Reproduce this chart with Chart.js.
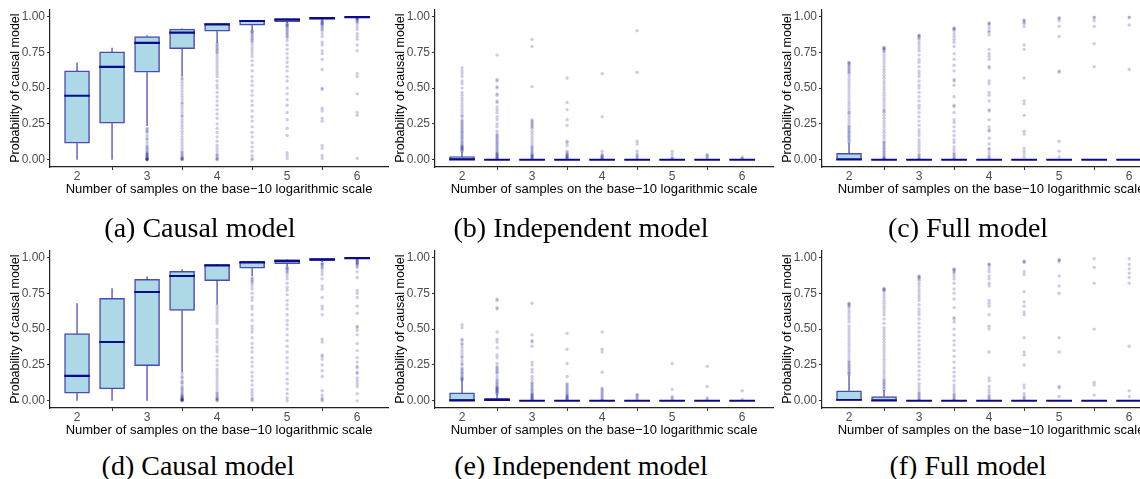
<!DOCTYPE html>
<html>
<head>
<meta charset="utf-8">
<script src="https://cdn.jsdelivr.net/npm/chart.js@4.4.0/dist/chart.umd.min.js"></script>
<style>
body { margin:0; width:1140px; height:479px; overflow:hidden; background:#fff; position:relative; }
.panel { position:absolute; width:392px; height:200px; }
.cap { position:absolute; width:300px; text-align:center; font-family:"Liberation Serif", "Times New Roman", serif; font-size:28px; line-height:30px; color:#000; white-space:nowrap; }
</style>
</head>
<body>
<div class="panel" style="left:0px;top:0px"><canvas id="pa"></canvas></div>
<div class="panel" style="left:385px;top:0px"><canvas id="pb"></canvas></div>
<div class="panel" style="left:772px;top:0px"><canvas id="pc"></canvas></div>
<div class="panel" style="left:0px;top:241px"><canvas id="pd"></canvas></div>
<div class="panel" style="left:385px;top:241px"><canvas id="pe"></canvas></div>
<div class="panel" style="left:772px;top:241px"><canvas id="pf"></canvas></div>
<div class="cap" style="left:50px;top:213px">(a) Causal model</div>
<div class="cap" style="left:431px;top:213px">(b) Independent model</div>
<div class="cap" style="left:818px;top:213px">(c) Full model</div>
<div class="cap" style="left:48px;top:451px">(d) Causal model</div>
<div class="cap" style="left:431px;top:451px">(e) Independent model</div>
<div class="cap" style="left:818px;top:451px">(f) Full model</div>
<script>
// positions of the boxes (log10 of sample size) and axis ticks
const xPos = [2, 2.5, 3, 3.5, 4, 4.5, 5, 5.5, 6];
const xTicks = [2, 3, 4, 5, 6];
const yTicks = [0, 0.25, 0.5, 0.75, 1];

// box stats per position: [lower whisker, q1, median, q3, upper whisker]
const aBox = [
  [0, 0.116, 0.447, 0.62, 0.678],
  [0, 0.255, 0.648, 0.752, 0.782],
  [0.236, 0.611, 0.815, 0.859, 0.868],
  [0.58, 0.775, 0.887, 0.912, 0.915],
  [0.815, 0.896, 0.944, 0.949, 0.952],
  [0.903, 0.938, 0.968, 0.972, 0.975],
  [0.954, 0.963, 0.977, 0.984, 0.986],
  [0.972, 0.979, 0.988, 0.991, 0.993],
  [0.985, 0.991, 0.995, 0.997, 0.999]
];
const aOut = [
  [],
  [],
  [0.22,0.21,0.2,0.19,0.17,0.15,0.14,0.12,0.1,0.09,0.08,0.07,0.06,0.05,0.045,0.04,0.035,0.03,0.025,0.02,0.015,0.01,0.008,0.005,0.003,0.002,0.001,0],
  [0.57,0.56,0.54,0.52,0.5,0.48,0.46,0.44,0.42,0.4,0.39,0.37,0.35,0.33,0.31,0.3,0.28,0.26,0.24,0.22,0.2,0.18,0.16,0.14,0.12,0.1,0.08,0.06,0.05,0.04,0.03,0.02,0.015,0.01,0.006,0.003,0],
  [0.81,0.8,0.79,0.78,0.77,0.76,0.75,0.74,0.72,0.7,0.68,0.66,0.64,0.62,0.6,0.58,0.55,0.52,0.5,0.47,0.44,0.41,0.38,0.35,0.32,0.29,0.25,0.22,0.19,0.16,0.13,0.1,0.08,0.06,0.04,0.03,0.02,0.01,0.005,0],
  [0.9,0.895,0.89,0.88,0.87,0.86,0.85,0.84,0.83,0.82,0.8,0.78,0.76,0.74,0.72,0.69,0.66,0.62,0.58,0.55,0.52,0.48,0.45,0.41,0.38,0.34,0.3,0.27,0.23,0.19,0.16,0.12,0.09,0.06,0.03,0.01,0],
  [0.95,0.945,0.94,0.935,0.93,0.92,0.91,0.9,0.89,0.88,0.87,0.86,0.85,0.83,0.8,0.77,0.74,0.71,0.68,0.65,0.62,0.58,0.55,0.5,0.46,0.42,0.38,0.33,0.28,0.22,0.17,0.05,0.03,0.01],
  [0.97,0.965,0.96,0.955,0.95,0.945,0.94,0.93,0.92,0.91,0.9,0.88,0.86,0.82,0.8,0.76,0.74,0.7,0.63,0.5,0.49,0.36,0.34,0.29,0.27,0.1,0.08,0.03,0.01],
  [0.99,0.985,0.98,0.975,0.97,0.96,0.95,0.93,0.91,0.88,0.86,0.84,0.8,0.76,0.6,0.58,0.46,0.33,0.31,0.01]
];

const bBox = [
  [0, 0, 0.003, 0.022, 0.055],
  [0, 0, 0, 0.002, 0.004],
  [0, 0, 0, 0.001, 0.002],
  [0, 0, 0, 0.001, 0.002],
  [0, 0, 0, 0.001, 0.002],
  [0, 0, 0, 0.001, 0.002],
  [0, 0, 0, 0.001, 0.002],
  [0, 0, 0, 0.001, 0.002],
  [0, 0, 0, 0.001, 0.002]
];
const bOut = [
  [0.64,0.62,0.6,0.58,0.55,0.53,0.5,0.47,0.45,0.43,0.41,0.39,0.37,0.35,0.33,0.31,0.3,0.28,0.27,0.26,0.25,0.24,0.23,0.22,0.21,0.2,0.19,0.18,0.17,0.16,0.15,0.14,0.13,0.12,0.11,0.1,0.095,0.09,0.085,0.08,0.075,0.07,0.065,0.06],
  [0.73,0.56,0.55,0.51,0.5,0.46,0.45,0.41,0.4,0.37,0.35,0.33,0.3,0.28,0.25,0.23,0.2,0.18,0.17,0.16,0.15,0.14,0.13,0.12,0.11,0.1,0.09,0.08,0.07,0.06,0.05,0.045,0.04,0.035,0.03,0.025,0.02,0.015,0.01,0.005],
  [0.84,0.79,0.51,0.28,0.27,0.26,0.25,0.24,0.23,0.22,0.2,0.18,0.16,0.14,0.12,0.1,0.09,0.08,0.07,0.06,0.05,0.04,0.035,0.03,0.025,0.02,0.015,0.01,0.005],
  [0.57,0.4,0.35,0.28,0.24,0.13,0.12,0.1,0.06,0.05,0.04,0.035,0.03,0.025,0.02,0.015,0.01,0.005],
  [0.6,0.3,0.06,0.04,0.03,0.025,0.02,0.015,0.01,0.005],
  [0.9,0.61,0.13,0.11,0.06,0.04,0.03,0.02,0.01],
  [0.06,0.04,0.02,0.01,0.005],
  [0.035,0.03,0.02,0.01],
  [0.02,0.01,0.005]
];

const cBox = [
  [0, 0, 0.002, 0.045, 0.115],
  [0, 0, 0, 0.003, 0.007],
  [0, 0, 0, 0.001, 0.002],
  [0, 0, 0, 0.001, 0.002],
  [0, 0, 0, 0.001, 0.002],
  [0, 0, 0, 0.001, 0.002],
  [0, 0, 0, 0.001, 0.002],
  [0, 0, 0, 0.001, 0.002],
  [0, 0, 0, 0.001, 0.002]
];
const cOut = [
  [0.68,0.675,0.67,0.66,0.65,0.64,0.63,0.62,0.61,0.6,0.58,0.56,0.54,0.52,0.5,0.48,0.46,0.44,0.42,0.4,0.38,0.36,0.34,0.33,0.32,0.3,0.28,0.26,0.24,0.23,0.22,0.21,0.2,0.19,0.18,0.17,0.16,0.15,0.14,0.13,0.12],
  [0.785,0.78,0.775,0.77,0.76,0.75,0.73,0.71,0.69,0.67,0.65,0.63,0.61,0.59,0.57,0.55,0.53,0.51,0.49,0.47,0.45,0.43,0.41,0.39,0.37,0.35,0.34,0.33,0.31,0.29,0.27,0.25,0.23,0.21,0.19,0.17,0.15,0.13,0.12,0.11,0.1,0.09,0.08,0.07,0.06,0.05,0.04,0.03,0.02,0.015,0.01,0.005],
  [0.87,0.865,0.86,0.85,0.84,0.82,0.8,0.78,0.76,0.73,0.7,0.68,0.65,0.62,0.6,0.58,0.55,0.52,0.5,0.47,0.44,0.41,0.38,0.36,0.33,0.3,0.27,0.24,0.21,0.19,0.17,0.14,0.12,0.1,0.08,0.06,0.04,0.03,0.02,0.01,0.005],
  [0.92,0.915,0.91,0.9,0.88,0.86,0.84,0.82,0.79,0.74,0.7,0.66,0.62,0.56,0.55,0.52,0.44,0.38,0.37,0.33,0.28,0.26,0.23,0.2,0.17,0.14,0.12,0.09,0.07,0.05,0.04,0.03,0.02,0.01,0.005],
  [0.955,0.95,0.94,0.92,0.9,0.89,0.87,0.77,0.74,0.72,0.7,0.65,0.64,0.55,0.53,0.47,0.45,0.41,0.35,0.34,0.28,0.23,0.21,0.2,0.15,0.11,0.08,0.07,0.05,0.03,0.02,0.01],
  [0.975,0.97,0.96,0.95,0.93,0.8,0.77,0.57,0.41,0.39,0.31,0.2,0.18,0.08,0.06,0.04,0.02],
  [0.99,0.985,0.97,0.93,0.86,0.62,0.61,0.13,0.06,0.02],
  [0.995,0.99,0.97,0.93,0.81,0.65],
  [0.995,0.99,0.94,0.63]
];

const dBox = [
  [0, 0.053, 0.174, 0.468, 0.681],
  [0, 0.083, 0.41, 0.715, 0.785],
  [0, 0.245, 0.759, 0.847, 0.866],
  [0.2, 0.63, 0.87, 0.903, 0.917],
  [0.67, 0.838, 0.944, 0.949, 0.954],
  [0.87, 0.924, 0.965, 0.972, 0.975],
  [0.937, 0.956, 0.975, 0.984, 0.987],
  [0.968, 0.977, 0.986, 0.991, 0.993],
  [0.985, 0.991, 0.995, 0.998, 0.999]
];
const dOut = [
  [],
  [],
  [],
  [0.19,0.17,0.16,0.14,0.13,0.12,0.1,0.09,0.08,0.07,0.06,0.05,0.04,0.035,0.03,0.025,0.02,0.015,0.012,0.01,0.008,0.006,0.004,0.002,0],
  [0.66,0.64,0.62,0.6,0.58,0.56,0.54,0.5,0.48,0.46,0.44,0.41,0.38,0.36,0.34,0.31,0.28,0.25,0.22,0.2,0.18,0.16,0.14,0.12,0.1,0.08,0.06,0.05,0.04,0.03,0.02,0.015,0.01,0.005,0],
  [0.86,0.85,0.84,0.83,0.82,0.8,0.78,0.75,0.72,0.7,0.66,0.64,0.6,0.56,0.52,0.5,0.48,0.44,0.4,0.37,0.34,0.3,0.27,0.24,0.2,0.17,0.14,0.11,0.08,0.06,0.04,0.02,0.01,0],
  [0.93,0.925,0.92,0.91,0.9,0.89,0.87,0.85,0.82,0.79,0.77,0.74,0.7,0.67,0.64,0.6,0.56,0.53,0.5,0.46,0.42,0.38,0.34,0.3,0.27,0.23,0.19,0.15,0.12,0.08,0.05,0.02,0],
  [0.96,0.955,0.95,0.94,0.93,0.92,0.9,0.88,0.85,0.8,0.78,0.72,0.66,0.64,0.6,0.43,0.41,0.32,0.31,0.29,0.25,0.21,0.17,0.07,0.04,0.02,0.01,0],
  [0.985,0.98,0.975,0.97,0.965,0.96,0.955,0.95,0.94,0.93,0.9,0.86,0.77,0.75,0.72,0.66,0.61,0.52,0.51,0.49,0.46,0.4,0.35,0.3,0.27,0.24,0.23,0.2,0.19,0.16,0.14,0.12,0.1,0.05,0]
];

const eBox = [
  [0, 0, 0.003, 0.055, 0.143],
  [0, 0, 0.006, 0.018, 0.045],
  [0, 0, 0, 0.001, 0.002],
  [0, 0, 0, 0.001, 0.002],
  [0, 0, 0, 0.001, 0.002],
  [0, 0, 0, 0.001, 0.002],
  [0, 0, 0, 0.001, 0.002],
  [0, 0, 0, 0.001, 0.002],
  [0, 0, 0, 0.001, 0.002]
];
const eOut = [
  [0.53,0.51,0.43,0.42,0.4,0.39,0.37,0.35,0.33,0.31,0.3,0.28,0.26,0.25,0.23,0.22,0.21,0.2,0.19,0.18,0.17,0.16,0.155,0.15,0.145],
  [0.71,0.7,0.65,0.64,0.48,0.43,0.41,0.37,0.32,0.3,0.26,0.24,0.23,0.22,0.21,0.2,0.19,0.17,0.15,0.14,0.13,0.12,0.11,0.1,0.095,0.09,0.085,0.08,0.075,0.07,0.065,0.06,0.055,0.05],
  [0.68,0.46,0.42,0.41,0.38,0.27,0.25,0.22,0.2,0.17,0.15,0.13,0.12,0.11,0.1,0.09,0.08,0.07,0.06,0.05,0.045,0.04,0.035,0.03,0.025,0.02,0.015,0.01,0.005],
  [0.47,0.36,0.26,0.17,0.12,0.11,0.1,0.09,0.08,0.07,0.06,0.05,0.04,0.035,0.03,0.025,0.02,0.015,0.01,0.005],
  [0.48,0.36,0.34,0.2,0.09,0.08,0.07,0.06,0.05,0.04,0.03,0.02,0.01,0.005],
  [0.045,0.04,0.03,0.02,0.01],
  [0.26,0.08,0.03,0.02,0.01],
  [0.24,0.1,0.02,0.01],
  [0.07,0.01]
];

const fBox = [
  [0, 0, 0.005, 0.07, 0.178],
  [0, 0, 0.002, 0.03, 0.075],
  [0, 0, 0, 0.001, 0.002],
  [0, 0, 0, 0.001, 0.002],
  [0, 0, 0, 0.001, 0.002],
  [0, 0, 0, 0.001, 0.002],
  [0, 0, 0, 0.001, 0.002],
  [0, 0, 0, 0.001, 0.002],
  [0, 0, 0, 0.001, 0.002]
];
const fOut = [
  [0.68,0.675,0.67,0.66,0.65,0.63,0.61,0.59,0.57,0.55,0.52,0.5,0.48,0.46,0.44,0.42,0.4,0.38,0.36,0.34,0.32,0.3,0.28,0.27,0.26,0.25,0.24,0.23,0.22,0.21,0.2,0.19,0.185],
  [0.785,0.78,0.775,0.77,0.76,0.74,0.72,0.7,0.68,0.66,0.64,0.62,0.6,0.57,0.54,0.51,0.49,0.47,0.45,0.43,0.41,0.39,0.37,0.35,0.33,0.31,0.29,0.27,0.25,0.23,0.21,0.19,0.17,0.15,0.14,0.13,0.12,0.11,0.1,0.09,0.08],
  [0.87,0.865,0.86,0.85,0.84,0.82,0.8,0.78,0.76,0.74,0.72,0.7,0.67,0.64,0.62,0.6,0.57,0.54,0.51,0.48,0.45,0.42,0.39,0.36,0.33,0.3,0.27,0.24,0.21,0.18,0.15,0.12,0.1,0.08,0.06,0.05,0.04,0.03,0.02,0.01,0.005],
  [0.92,0.915,0.91,0.9,0.89,0.87,0.85,0.82,0.78,0.75,0.71,0.65,0.58,0.57,0.55,0.5,0.46,0.42,0.39,0.35,0.31,0.27,0.23,0.2,0.17,0.14,0.11,0.09,0.07,0.05,0.04,0.03,0.02,0.01,0.005],
  [0.955,0.95,0.94,0.92,0.9,0.87,0.85,0.82,0.8,0.7,0.68,0.66,0.6,0.52,0.5,0.34,0.16,0.14,0.1,0.08,0.06,0.04,0.03,0.02,0.01],
  [0.975,0.97,0.965,0.9,0.88,0.76,0.69,0.66,0.62,0.6,0.44,0.34,0.32,0.25,0.11,0.09,0.05,0.03,0.02,0.01],
  [0.985,0.98,0.97,0.87,0.8,0.75,0.44,0.34,0.1,0.09,0.03],
  [0.99,0.93,0.82,0.5,0.13,0.11,0.04],
  [0.99,0.95,0.92,0.89,0.86,0.82,0.38,0.07,0.03]
];

const xTitle = 'Number of samples on the base\u221210 logarithmic scale';
const yTitle = 'Probability of causal model';

// colours
const boxFill = '#ADD8E6';
const boxLine = 'rgba(0,0,139,0.7)';
const medLine = '#0a0a8c';
const outCol = 'rgba(0,0,139,0.2)';

// half height of the median bar, in data units (about 1.5px)
const medHalf = 0.005;

function makePanel(id, box, out) {
  const boxData = xPos.map((x, i) => ({x: x, y: [box[i][1], box[i][3]]}));
  const medData = xPos.map((x, i) => ({x: x, y: [box[i][2] - medHalf, box[i][2] + medHalf]}));
  const whisk = [];
  xPos.forEach((x, i) => {
    whisk.push({x: x, y: box[i][0]}, {x: x, y: box[i][1]}, {x: x, y: null});
    whisk.push({x: x, y: box[i][3]}, {x: x, y: box[i][4]}, {x: x, y: null});
  });
  const outData = [];
  xPos.forEach((x, i) => out[i].forEach(v => outData.push({x: x, y: v})));

  const tickFont = {family: '"Liberation Sans", Arial, sans-serif', size: 12};
  const yTitleFont = {family: '"Liberation Sans", Arial, sans-serif', size: 12.5};
  const xTitleFont = {family: '"Liberation Sans", Arial, sans-serif', size: 13};

  return new Chart(document.getElementById(id), {
    type: 'scatter',
    data: {
      datasets: [
        {
          type: 'scatter', data: outData, order: 4,
          pointRadius: 1.7, pointBackgroundColor: outCol, pointBorderWidth: 0,
          pointBorderColor: 'rgba(0,0,0,0)'
        },
        {
          type: 'line', data: whisk, order: 3, spanGaps: false,
          borderColor: boxLine, borderWidth: 1.3, pointRadius: 0, fill: false, tension: 0
        },
        {
          type: 'bar', data: boxData, order: 2, barThickness: 25, grouped: false,
          backgroundColor: boxFill, borderColor: boxLine, borderWidth: 1.5,
          borderSkipped: false
        },
        {
          type: 'bar', data: medData, order: 1, barThickness: 25, grouped: false,
          backgroundColor: medLine, borderWidth: 0
        }
      ]
    },
    options: {
      responsive: true,
      maintainAspectRatio: false,
      animation: false,
      events: [],
      layout: {padding: {top: 8, left: 0, right: 0, bottom: 0}},
      plugins: {legend: {display: false}, tooltip: {enabled: false}},
      scales: {
        x: {
          type: 'linear', min: 1.614, max: 6.44, offset: false,
          afterBuildTicks: s => { s.ticks = xTicks.map(v => ({value: v})); },
          afterFit: s => { s.height = 33; },
          grid: {display: true, drawOnChartArea: false, drawTicks: true, tickLength: 3, tickColor: '#333', tickWidth: 1},
          border: {display: true, color: '#222', width: 1.2},
          ticks: {font: tickFont, color: '#4d4d4d', padding: -1, maxRotation: 0},
          title: {display: true, text: xTitle, font: xTitleFont, color: '#000', padding: {top: 0, bottom: 3}}
        },
        y: {
          type: 'linear', min: -0.05, max: 1.05,
          afterBuildTicks: s => { s.ticks = yTicks.map(v => ({value: v})); },
          afterFit: s => { s.width = 50; },
          grid: {display: true, drawOnChartArea: false, drawTicks: true, tickLength: 3, tickColor: '#333', tickWidth: 1},
          border: {display: true, color: '#222', width: 1.2},
          ticks: {font: tickFont, color: '#4d4d4d', padding: 2, callback: v => v.toFixed(2)},
          title: {display: true, text: yTitle, font: yTitleFont, color: '#000', padding: {top: 8, bottom: 0}}
        }
      }
    }
  });
}

makePanel('pa', aBox, aOut);
makePanel('pb', bBox, bOut);
makePanel('pc', cBox, cOut);
makePanel('pd', dBox, dOut);
makePanel('pe', eBox, eOut);
makePanel('pf', fBox, fOut);
</script>
</body>
</html>
